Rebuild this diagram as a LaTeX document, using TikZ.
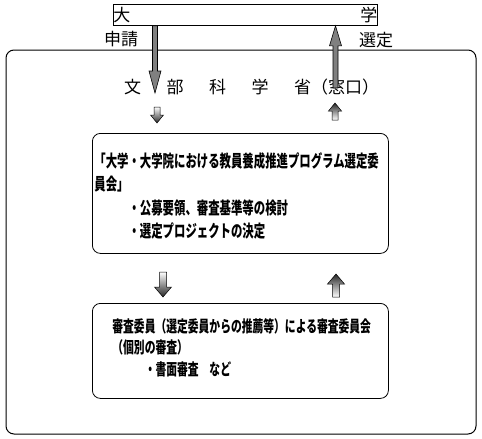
\documentclass[tikz,border=0pt]{standalone}
\usepackage{fontspec}
\usetikzlibrary{calc,positioning}
\newfontfamily\jpfont{Noto Sans CJK JP}
\newfontfamily\boxfont[FakeStretch=0.67]{Noto Sans CJK JP}
% vertical block arrow: style, tail, tip, half shaft, half head, head length
\newcommand{\blockarrow}[6][]{%
  \path[#1] let \p1=(#2), \p2=(#3), \n1={sign(\y2-\y1)} in
    ({\x1-#4pt},\y1) -- ({\x1-#4pt},{\y2-\n1*#6pt}) -- ({\x1-#5pt},{\y2-\n1*#6pt})
    -- (\x1,\y2) -- ({\x1+#5pt},{\y2-\n1*#6pt}) -- ({\x1+#4pt},{\y2-\n1*#6pt})
    -- ({\x1+#4pt},\y1) -- cycle;}

\begin{document}
\begin{tikzpicture}[x=1pt,y=-1pt,
    jp/.style={font=\jpfont\fontsize{17pt}{17pt}\selectfont},
    panel/.style={draw,line width=0.8pt,rounded corners=8pt,anchor=north west,align=left},
    bigarrow/.style={draw=black,line width=0.6pt,fill=black!50},
    downshade/.style={draw=black,line width=0.5pt,top color=white,bottom color=black!85},
    upshade/.style={draw=black,line width=0.5pt,top color=black!85,bottom color=white}]
  \useasboundingbox (0,0) rectangle (482,439);
  \node[draw,line width=0.8pt,minimum height=21pt,inner sep=0pt,text width=264pt,
        anchor=north west,jp] (univ) at (113,4) {大\hfill 学};
  \node[jp] (apply) at (121,39) {申請};
  \node[jp] (chosen) at (376,40) {選定};
  \draw[line width=1pt,rounded corners=8pt] (6,50) rectangle (476,434);
  \node[jp,anchor=west,inner sep=0pt] (mext) at (124,87)
    {文\hspace{1.5em}部\hspace{1.5em}科\hspace{1.5em}学\hspace{1.5em}省（窓口）};
  \node[panel,minimum height=120pt,inner xsep=2pt,text width=292pt,
        font=\boxfont\bfseries\fontsize{17pt}{23.5pt}\selectfont] (committee) at (92,133)
    {\rule{0pt}{20pt}「大学・大学院における教員養成推進プログラム選定委\\
     員会」\\
     　　　・公募要領、審査基準等の検討\\
     　　　・選定プロジェクトの決定};
  \node[panel,minimum height=95pt,inner xsep=20pt,text width=256pt,
        font=\boxfont\bfseries\fontsize{16.1pt}{21.5pt}\selectfont] (review) at (92,303)
    {審査委員（選定委員からの推薦等）による審査委員会\\
     （個別の審査）\\
     　　　・書面審査　など\rule[-8pt]{0pt}{8pt}};
  % arrows
  \coordinate (applytip) at (155,93);
  \coordinate (chosentail) at (335.5,88);
  \blockarrow[bigarrow]{univ.south -| applytip}{applytip}{2.5}{6}{22}
  \blockarrow[bigarrow]{chosentail}{univ.south -| chosentail}{2.5}{6}{20}
  \coordinate (down1) at (157,107);
  \coordinate (down1tip) at (157,123);
  \coordinate (up1) at (335,120);
  \coordinate (up1tip) at (335,103);
  \coordinate (down2) at (163,272);
  \coordinate (down2tip) at (163,297);
  \coordinate (up2) at (336,297);
  \coordinate (up2tip) at (336,274);
  \blockarrow[downshade]{down1}{down1tip}{3}{6.5}{8}
  \blockarrow[upshade]{up1}{up1tip}{3}{6.5}{8}
  \blockarrow[downshade]{down2}{down2tip}{3.5}{8.5}{10}
  \blockarrow[upshade]{up2}{up2tip}{3.5}{8.5}{10}
\end{tikzpicture}
\end{document}
